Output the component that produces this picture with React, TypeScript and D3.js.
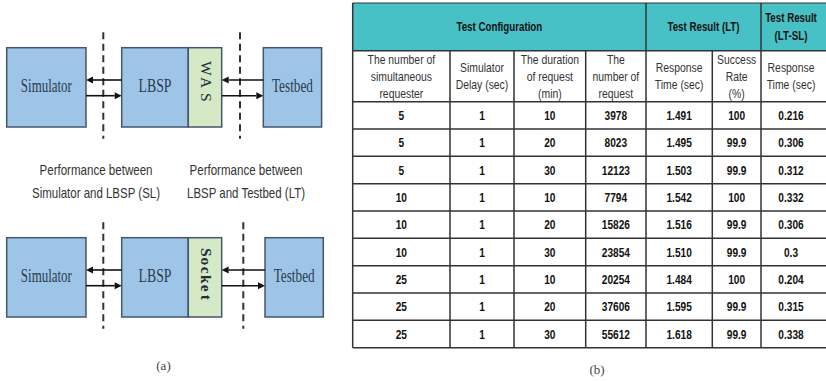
import React from "react";
import * as d3 from "d3";

// ---- Table data ----
const requesters = ["5", "5", "5", "10", "10", "10", "25", "25", "25"];
const simDelays = ["1", "1", "1", "1", "1", "1", "1", "1", "1"];
const durations = ["10", "20", "30", "10", "20", "30", "10", "20", "30"];
const requestCounts = ["3978", "8023", "12123", "7794", "15826", "23854", "20254", "37606", "55612"];
const responseLT = ["1.491", "1.495", "1.503", "1.542", "1.516", "1.510", "1.484", "1.595", "1.618"];
const successRate = ["100", "99.9", "99.9", "100", "99.9", "99.9", "100", "99.9", "99.9"];
const responseLTSL = ["0.216", "0.306", "0.312", "0.332", "0.306", "0.3", "0.204", "0.315", "0.338"];

const subHeaders = [
  ["The number of", "simultaneous", "requester"],
  ["Simulator", "Delay (sec)"],
  ["The duration", "of request", "(min)"],
  ["The", "number of", "request"],
  ["Response", "Time (sec)"],
  ["Success", "Rate", "(%)"],
  ["Response", "Time (sec)"],
];
const groupHeaders = [
  { label: ["Test Configuration"], from: 0, to: 4 },
  { label: ["Test Result (LT)"], from: 4, to: 6 },
  { label: ["Test Result", "(LT-SL)"], from: 6, to: 7 },
];

// ---- Diagram labels ----
const nodeNames = ["Simulator", "LBSP", "Testbed"];
const captionsLeft = ["Performance between", "Simulator and LBSP (SL)"];
const captionsRight = ["Performance between", "LBSP and Testbed (LT)"];

const W = 826;
const H = 381;

const colEdges = [352.7, 450, 514, 585.7, 646, 712.3, 761, 830];
const columns = [requesters, simDelays, durations, requestCounts, responseLT, successRate, responseLTSL];

const rowScale = d3
  .scaleBand<number>()
  .domain(d3.range(requesters.length))
  .range([101.7, 347.7]);

const tableFont = "'Liberation Sans', Arial, sans-serif";
const serif = "'Liberation Serif', 'DejaVu Serif', serif";
const sans = "'Liberation Sans', Arial, sans-serif";

function NText({
  x,
  y,
  sx,
  children,
  ...rest
}: {
  x: number;
  y: number;
  sx: number;
  children: React.ReactNode;
  [k: string]: any;
}) {
  return (
    <text transform={`translate(${x},${y}) scale(${sx},1)`} x={0} y={0} textAnchor="middle" {...rest}>
      {children}
    </text>
  );
}

function Arrow({ x1, x2, y }: { x1: number; x2: number; y: number }) {
  const dir = x2 > x1 ? 1 : -1;
  const hl = 7;
  const hw = 3.5;
  return (
    <g>
      <line x1={x1} x2={x2 - dir * hl} y1={y} y2={y} stroke="#111" strokeWidth={1.6} />
      <path d={`M${x2},${y} L${x2 - dir * hl},${y - hw} L${x2 - dir * hl},${y + hw} Z`} fill="#111" />
    </g>
  );
}

function Diagram({
  top,
  adapter,
  testbedX,
  rightDashX,
  adapterSpacing,
  adapterStart,
}: {
  top: number;
  adapter: string;
  testbedX: number;
  rightDashX: number;
  adapterSpacing: number;
  adapterStart: number;
}) {
  const bh = 79.3;
  const y0 = top;
  const simX = [6.7, 86];
  const lbspX = [121.7, 188.3];
  const adX = [188.3, 221.7];
  const tbX = [testbedX, testbedX + 58.3];
  const aY1 = top + 32.3;
  const aY2 = top + 48;
  const stroke = "#45556a";
  const textColor = "#2c3b4e";
  const boxFill = "#9ec5e8";
  const labelY = top + 44;
  const letters = adapter.split("");
  const adCx = (adX[0] + adX[1]) / 2 + 1;
  return (
    <g>
      <line x1={103.3} x2={103.3} y1={top - 15.4} y2={top + 91} stroke="#333" strokeWidth={2} strokeDasharray="7,4.5" />
      <line x1={rightDashX} x2={rightDashX} y1={top - 15.4} y2={top + 91} stroke="#333" strokeWidth={2} strokeDasharray="7,4.5" />
      <rect x={simX[0]} y={y0} width={simX[1] - simX[0]} height={bh} fill={boxFill} stroke={stroke} strokeWidth={1.5} />
      <rect x={lbspX[0]} y={y0} width={lbspX[1] - lbspX[0]} height={bh} fill={boxFill} stroke={stroke} strokeWidth={1.5} />
      <rect x={adX[0]} y={y0} width={adX[1] - adX[0]} height={bh} fill="#d5e9c7" stroke={stroke} strokeWidth={1.5} />
      <rect x={tbX[0]} y={y0} width={tbX[1] - tbX[0]} height={bh} fill={boxFill} stroke={stroke} strokeWidth={1.5} />
      <text x={(simX[0] + simX[1]) / 2} y={labelY} textAnchor="middle" fontFamily={serif} fontSize={18} fill={textColor} textLength={51} lengthAdjust="spacingAndGlyphs">
        {nodeNames[0]}
      </text>
      <text x={(lbspX[0] + lbspX[1]) / 2} y={labelY} textAnchor="middle" fontFamily={serif} fontSize={18} fill={textColor} textLength={33} lengthAdjust="spacingAndGlyphs">
        {nodeNames[1]}
      </text>
      <text x={(tbX[0] + tbX[1]) / 2} y={labelY} textAnchor="middle" fontFamily={serif} fontSize={18} fill={textColor} textLength={41} lengthAdjust="spacingAndGlyphs">
        {nodeNames[2]}
      </text>
      {letters.map((ch, i) => (
        <text
          key={i}
          transform={`translate(${adCx},${top + adapterStart + i * adapterSpacing}) rotate(90)`}
          textAnchor="middle"
          dy="0.35em"
          fontFamily={serif}
          fontSize={15.5}
          fontWeight={adapter.length > 3 ? "bold" : "normal"}
          fill="#1f2d3d"
        >
          {ch}
        </text>
      ))}
      <Arrow x1={lbspX[0]} x2={simX[1]} y={aY1} />
      <Arrow x1={simX[1]} x2={lbspX[0]} y={aY2} />
      <Arrow x1={tbX[0]} x2={adX[1]} y={aY1} />
      <Arrow x1={adX[1]} x2={tbX[0]} y={aY2} />
    </g>
  );
}

export default function App() {
  const headerTop = 3;
  const headerBottom = 50.7;
  const subBottom = rowScale.range()[0];
  const tableBottom = rowScale.range()[1];
  const left = colEdges[0];
  const right = colEdges[colEdges.length - 1];
  const lineColor = "#333";
  const sx = 0.8;
  return (
    <svg width={W} height={H} style={{ position: "absolute", left: 0, top: 0, background: "#fff" }}>
      <rect x={0} y={0} width={W} height={H} fill="#fff" />
      {/* Diagrams */}
      <Diagram top={47.7} adapter="WAS" testbedX={263.3} rightDashX={240} adapterSpacing={14.5} adapterStart={20.5} />
      <Diagram top={237.7} adapter="Socket" testbedX={265} rightDashX={243.3} adapterSpacing={9} adapterStart={14.6} />
      {captionsLeft.map((t, i) => (
        <text key={"cl" + i} x={96} y={175 + i * 23} textAnchor="middle" fontFamily={sans} fontSize={15} fill="#333" textLength={i === 0 ? 113 : 128} lengthAdjust="spacingAndGlyphs">
          {t}
        </text>
      ))}
      {captionsRight.map((t, i) => (
        <text key={"cr" + i} x={246} y={175 + i * 23} textAnchor="middle" fontFamily={sans} fontSize={15} fill="#333" textLength={i === 0 ? 113 : 118} lengthAdjust="spacingAndGlyphs">
          {t}
        </text>
      ))}
      <text x={163.5} y={370} textAnchor="middle" fontFamily={serif} fontSize={13} fill="#444">
        (a)
      </text>
      <text x={597} y={374} textAnchor="middle" fontFamily={serif} fontSize={13} fill="#444">
        (b)
      </text>

      {/* Table */}
      <rect x={left} y={headerTop} width={right - left} height={headerBottom - headerTop} fill="#47c1c5" />
      {groupHeaders.map((g, i) => {
        const cx = (colEdges[g.from] + Math.min(colEdges[g.to], 821)) / 2;
        const cy = (headerTop + headerBottom) / 2;
        const n = g.label.length;
        return g.label.map((t, j) => (
          <NText key={"g" + i + j} x={cx} y={cy + (j - (n - 1) / 2) * 18.5} sx={0.78} dy="0.35em" fontFamily={tableFont} fontWeight="bold" fontSize={12.5} fill="#111">
            {t}
          </NText>
        ));
      })}
      {subHeaders.map((lines, c) => {
        const right2 = c === 6 ? 821 : colEdges[c + 1];
        const cx = (colEdges[c] + right2) / 2;
        const cy = (headerBottom + subBottom) / 2;
        const n = lines.length;
        return lines.map((t, j) => (
          <NText key={"s" + c + j} x={cx} y={cy + (j - (n - 1) / 2) * 16.8} sx={sx} dy="0.35em" fontFamily={tableFont} fontSize={13} fill="#333">
            {t}
          </NText>
        ));
      })}
      {columns.map((col, c) => {
        const right2 = c === 6 ? 821 : colEdges[c + 1];
        const cx = (colEdges[c] + right2) / 2;
        return col.map((v, r) => (
          <NText key={"d" + c + r} x={cx} y={(rowScale(r) as number) + rowScale.bandwidth() / 2} sx={0.78} dy="0.36em" fontFamily={tableFont} fontWeight="bold" fontSize={13} fill="#111">
            {v}
          </NText>
        ));
      })}
      {/* horizontal lines */}
      {[headerTop, headerBottom, ...rowScale.domain().map((r) => rowScale(r) as number), tableBottom].map((y, i) => (
        <line key={"h" + i} x1={left} x2={right} y1={y} y2={y} stroke={lineColor} strokeWidth={i === 0 ? 1.2 : 1.5} />
      ))}
      {/* vertical lines */}
      {colEdges.slice(0, -1).map((x, i) => {
        const spansHeader = i === 0 || i === 4 || i === 6;
        return (
          <line key={"v" + i} x1={x} x2={x} y1={spansHeader ? headerTop : headerBottom} y2={tableBottom} stroke={lineColor} strokeWidth={1.5} />
        );
      })}
    </svg>
  );
}
